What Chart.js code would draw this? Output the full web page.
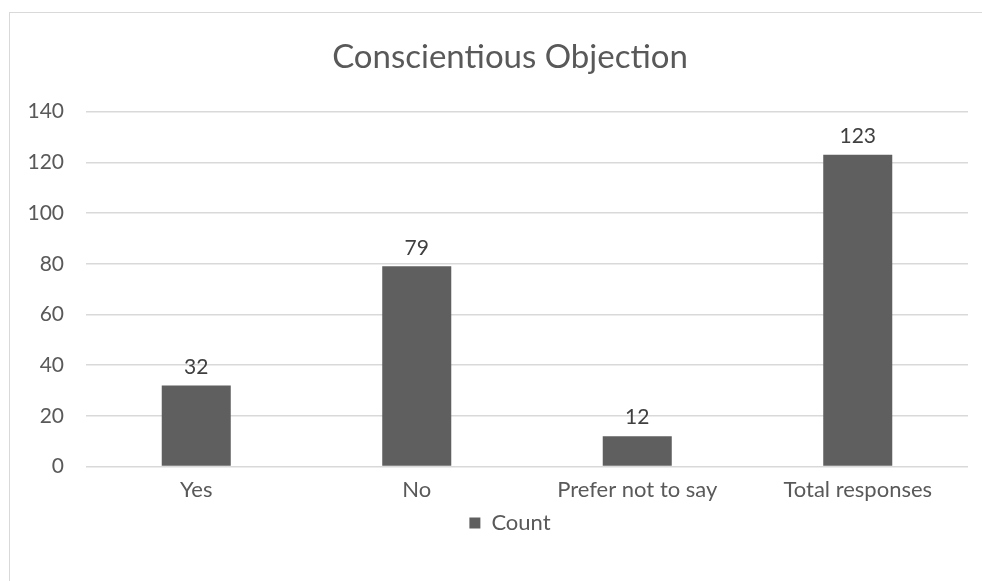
<!DOCTYPE html>
<html>
<head>
<meta charset="utf-8">
<script src="https://cdn.jsdelivr.net/npm/chart.js@4"></script>
<style>
  html, body { margin: 0; padding: 0; background: #fff; }
  #wrap { position: relative; width: 982px; height: 581px; overflow: hidden; }
  #frame { position: absolute; left: 9px; top: 12px; width: 1000px; height: 600px; border: 1px solid #d9d9d9; box-sizing: border-box; }
  canvas { position: absolute; left: 0; top: 0; }
</style>
</head>
<body>
<div id="wrap">
  <div id="frame"></div>
  <canvas id="barChart" width="1000" height="581"></canvas>
</div>
<script>
const categories = ['Yes', 'No', 'Prefer not to say', 'Total responses'];
const counts = [32, 79, 12, 123];
const yTicks = [0, 20, 40, 60, 80, 100, 120, 140];

const FONT = 'Lato, "Open Sans", sans-serif';
const TEXT = '#595959';

// writes each bar's value just above it
const valueLabels = {
  id: 'valueLabels',
  afterDatasetsDraw(chart) {
    const ctx = chart.ctx;
    const meta = chart.getDatasetMeta(0);
    ctx.save();
    ctx.font = '21px ' + FONT;
    ctx.fillStyle = '#404040';
    ctx.textAlign = 'center';
    ctx.textBaseline = 'bottom';
    meta.data.forEach((bar, i) => {
      ctx.fillText(String(counts[i]), bar.x, bar.y - 8);
    });
    ctx.restore();
  }
};

const ctx = document.getElementById('barChart').getContext('2d');
new Chart(ctx, {
  type: 'bar',
  data: {
    labels: categories,
    datasets: [{
      label: 'Count',
      data: counts,
      backgroundColor: '#5f5f5f',
      categoryPercentage: 0.313,
      barPercentage: 1.0,
    }],
  },
  options: {
    responsive: false,
    animation: false,
    layout: { padding: { left: 20, right: 0, top: 16, bottom: 37 } },
    plugins: {
      title: {
        display: true,
        text: 'Conscientious Objection',
        color: TEXT,
        font: { family: FONT, size: 33, weight: 'normal' },
        padding: { top: 22, bottom: 34 },
      },
      legend: {
        position: 'bottom',
        labels: {
          color: TEXT,
          font: { family: FONT, size: 22 },
          boxWidth: 11,
          boxHeight: 11,
          padding: 7,
        },
      },
      tooltip: { enabled: false },
    },
    scales: {
      x: {
        grid: { display: false },
        border: { display: false },
        ticks: { color: TEXT, font: { family: FONT, size: 22 }, padding: 2 },
      },
      y: {
        min: 0,
        max: 140,
        afterBuildTicks(scale) { scale.ticks = yTicks.map(v => ({ value: v })); },
        afterFit(scale) { scale.width = 66; },
        grid: { color: '#d9d9d9', lineWidth: 1.5, drawTicks: false },
        border: { display: false },
        ticks: { color: TEXT, font: { family: FONT, size: 21 }, padding: 22 },
      },
      // empty margin on the right so the plot stops short of the frame edge
      yRight: {
        position: 'right',
        afterFit(scale) { scale.width = 32; },
        grid: { display: false },
        border: { display: false },
        ticks: { display: false },
      },
    },
  },
  plugins: [valueLabels],
});
</script>
</body>
</html>
